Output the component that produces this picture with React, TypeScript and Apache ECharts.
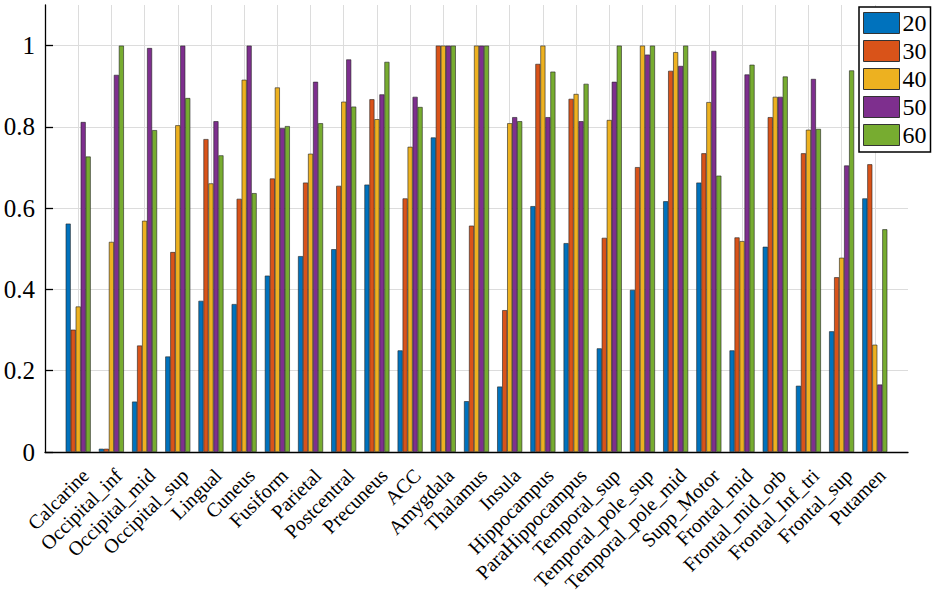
import React, { useEffect, useRef } from 'react';
import * as echarts from 'echarts';

const categories = ['Calcarine', 'Occipital_inf', 'Occipital_mid', 'Occipital_sup', 'Lingual', 'Cuneus', 'Fusiform', 'Parietal', 'Postcentral', 'Precuneus', 'ACC', 'Amygdala', 'Thalamus', 'Insula', 'Hippocampus', 'ParaHippocampus', 'Temporal_sup', 'Temporal_pole_sup', 'Temporal_pole_mid', 'Supp_Motor', 'Frontal_mid', 'Frontal_mid_orb', 'Frontal_Inf_tri', 'Frontal_sup', 'Putamen'];

const seriesNames = ['20', '30', '40', '50', '60'];

const s20 = [0.562, 0.008, 0.124, 0.235, 0.372, 0.364, 0.434, 0.482, 0.499, 0.658, 0.250, 0.774, 0.125, 0.161, 0.605, 0.514, 0.255, 0.399, 0.617, 0.663, 0.250, 0.505, 0.163, 0.297, 0.624];
const s30 = [0.301, 0.008, 0.262, 0.492, 0.770, 0.623, 0.673, 0.663, 0.655, 0.868, 0.624, 1, 0.557, 0.349, 0.955, 0.869, 0.527, 0.701, 0.938, 0.735, 0.528, 0.824, 0.735, 0.430, 0.708];
const s40 = [0.358, 0.517, 0.569, 0.804, 0.661, 0.916, 0.897, 0.734, 0.862, 0.819, 0.751, 1, 1, 0.809, 1, 0.881, 0.817, 1, 0.984, 0.861, 0.519, 0.874, 0.793, 0.478, 0.264];
const s50 = [0.812, 0.928, 0.994, 1, 0.814, 1, 0.797, 0.911, 0.966, 0.880, 0.874, 1, 1, 0.824, 0.824, 0.814, 0.911, 0.978, 0.950, 0.987, 0.929, 0.874, 0.918, 0.705, 0.166];
const s60 = [0.727, 1, 0.792, 0.871, 0.730, 0.637, 0.802, 0.809, 0.850, 0.960, 0.849, 1, 1, 0.814, 0.936, 0.906, 1, 1, 1, 0.680, 0.953, 0.924, 0.795, 0.939, 0.548];

const yTicks = [0, 0.2, 0.4, 0.6, 0.8, 1];
const colors = ['#0072BD', '#D95319', '#EDB120', '#7E2F8E', '#77AC30'];
const FONT = 'Liberation Serif';

export default function App() {
  const ref = useRef<HTMLDivElement>(null);
  useEffect(() => {
    document.body.style.margin = '0';
    const chart = echarts.init(ref.current!, null, { renderer: 'svg' });
    const allSeries = [s20, s30, s40, s50, s60];
    const axisData = ['', ...categories, ''];
    const xGridColors = axisData.map((_, i) => (i === axisData.length - 1 || i === 0 ? 'rgba(0,0,0,0)' : '#dcdcdc'));
    const yGridColors = ['#dcdcdc', '#dcdcdc', '#dcdcdc', '#dcdcdc', '#dcdcdc', '#dcdcdc', 'rgba(0,0,0,0)'];
    chart.setOption({
      animation: false,
      backgroundColor: '#fff',
      color: colors,
      textStyle: { fontFamily: FONT },
      grid: { left: 45, right: 27, top: 5, bottom: 149, containLabel: false, outerBoundsMode: 'none' },
      legend: {
        data: seriesNames,
        orient: 'vertical',
        left: 859,
        top: 7,
        padding: [4, 4, 5, 4],
        itemWidth: 36,
        itemHeight: 21,
        itemGap: 4,
        icon: 'rect',
        backgroundColor: '#fff',
        borderColor: '#000',
        borderWidth: 1.5,
        borderRadius: 0,
        itemStyle: { borderColor: '#333', borderWidth: 1 },
        textStyle: { fontFamily: FONT, fontSize: 24, color: '#000', lineHeight: 21, padding: [0, 0, 0, -2] },
      },
      xAxis: {
        type: 'category',
        data: axisData,
        boundaryGap: false,
        axisLine: { lineStyle: { color: '#000', width: 1.3 } },
        axisTick: { show: false },
        axisLabel: {
          interval: 0,
          rotate: 45,
          margin: 13,
          verticalAlign: 'top',
          fontFamily: FONT,
          fontSize: 20,
          color: '#000',
        },
        splitLine: { show: true, interval: 0, lineStyle: { color: xGridColors, width: 1 } },
      },
      yAxis: {
        type: 'value',
        min: 0,
        max: 1.1,
        interval: 0.2,
        axisLine: { show: true, lineStyle: { color: '#000', width: 1.3 } },
        axisTick: { show: true, inside: true, length: 8, customValues: yTicks, lineStyle: { color: '#000', width: 1.3 } },
        axisLabel: { customValues: yTicks, margin: 10, fontFamily: FONT, fontSize: 25, color: '#000' },
        splitLine: { show: true, lineStyle: { color: yGridColors, width: 1 } },
      },
      series: allSeries.map((vals, i) => ({
        name: seriesNames[i],
        type: 'bar',
        data: ['-', ...vals, '-'],
        barWidth: 5,
        barGap: '0%',
        itemStyle: { color: colors[i], borderColor: '#222', borderWidth: 0.6 },
      })),
    });
    return () => chart.dispose();
  }, []);
  return <div ref={ref} style={{ width: 935, height: 601 }} />;
}
